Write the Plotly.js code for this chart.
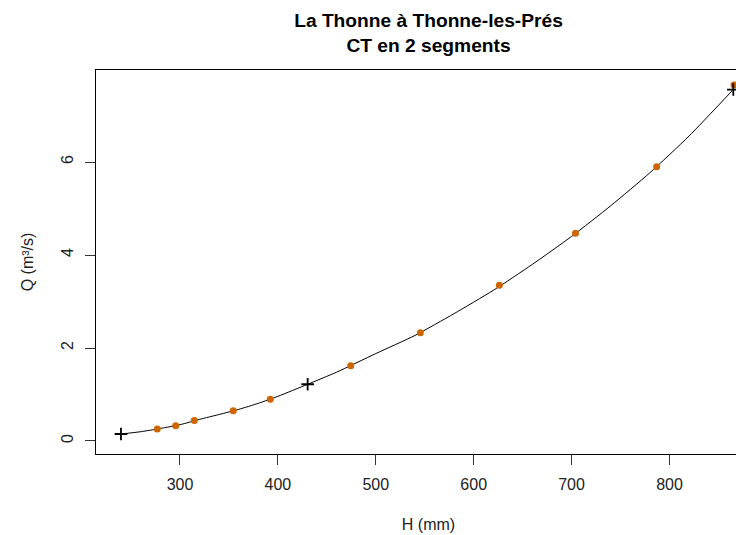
<!DOCTYPE html>
<html>
<head>
<meta charset="utf-8">
<script src="https://cdn.plot.ly/plotly-3.0.1.min.js"></script>
<style>
  html, body { margin: 0; padding: 0; background: #fff; overflow: hidden; width: 736px; height: 535px; }
  #chart { width: 800px; height: 535px; }
</style>
</head>
<body>
<div id="chart"></div>
<script>
// Gaugings (jaugeages): H in mm, Q in m3/s
const gaugeH = [276.8, 295.6, 314.6, 354.4, 392.2, 474.4, 545.5, 626.2, 704.0, 786.9, 865.9];
const gaugeQ = [0.26, 0.33, 0.44, 0.65, 0.90, 1.62, 2.33, 3.35, 4.47, 5.90, 7.66];

// Segment break points of the rating curve
const breakH = [239.7, 430.4, 865.2];
const breakQ = [0.15, 1.22, 7.56];

// Rating curve (CT en 2 segments)
const curveH = [239.7, 260, 280, 300, 320, 340, 360, 380, 400, 430.4, 460, 500, 540, 580, 620, 660, 700, 740, 780, 820, 865.2];
const curveQ = [0.15, 0.20, 0.27, 0.35, 0.465, 0.57, 0.68, 0.81, 0.96, 1.22, 1.48, 1.88, 2.27, 2.74, 3.24, 3.80, 4.40, 5.06, 5.77, 6.56, 7.56];

const xTicks = [300, 400, 500, 600, 700, 800];
const yTicks = [0, 2, 4, 6];

const titleText = "La Thonne à Thonne-les-Prés<br>CT en 2 segments";
const xTitle = "H (mm)";
const yTitle = "Q (m³/s)";

const font = "Liberation Sans, Arial, Helvetica, sans-serif";

const traces = [
  {
    x: curveH, y: curveQ, type: "scatter", mode: "lines",
    line: { color: "#000000", width: 1, shape: "spline", smoothing: 0.6 },
    hoverinfo: "skip", showlegend: false
  },
  {
    x: gaugeH, y: gaugeQ, type: "scatter", mode: "markers",
    marker: { color: "#CD6600", size: 7, line: { width: 0 } },
    showlegend: false
  },
  {
    x: breakH, y: breakQ, type: "scatter", mode: "markers",
    marker: { symbol: "cross-thin-open", color: "#000000", size: 9, line: { color: "#000000", width: 1.8 } },
    showlegend: false
  }
];

const layout = {
  width: 800, height: 535,
  margin: { l: 96, r: 39, t: 70, b: 81, pad: 0 },
  paper_bgcolor: "#ffffff", plot_bgcolor: "#ffffff",
  font: { family: font, size: 16, color: "#000000" },
  title: {
    text: titleText,
    font: { family: font, size: 19.2, weight: "bold", color: "#000000" },
    x: 0.5, xref: "paper", xanchor: "center",
    y: 1 - 27 / 535, yref: "container", yanchor: "middle"
  },
  xaxis: {
    range: [214.2, 893.5],
    tickmode: "array", tickvals: xTicks, ticktext: xTicks.map(String),
    ticks: "outside", ticklen: 10, tickwidth: 1, tickcolor: "#333333",
    ticklabelstandoff: 6,
    showline: true, linecolor: "#000000", linewidth: 1, mirror: true,
    showgrid: false, zeroline: false,
    tickfont: { family: font, size: 16, color: "#222222" },
    title: { text: xTitle, font: { family: font, size: 16, color: "#222222" }, standoff: 26 }
  },
  yaxis: {
    range: [-0.28, 7.98],
    tickmode: "array", tickvals: yTicks, ticktext: yTicks.map(String),
    ticks: "outside", ticklen: 10, tickwidth: 1, tickcolor: "#333333",
    tickangle: -90, ticklabelstandoff: 6,
    showline: true, linecolor: "#000000", linewidth: 1, mirror: true,
    showgrid: false, zeroline: false,
    tickfont: { family: font, size: 16, color: "#222222" },
    title: { text: yTitle, font: { family: font, size: 16, color: "#222222" }, standoff: 20 }
  }
};

Plotly.newPlot("chart", traces, layout, { displayModeBar: false, staticPlot: true });
</script>
</body>
</html>
